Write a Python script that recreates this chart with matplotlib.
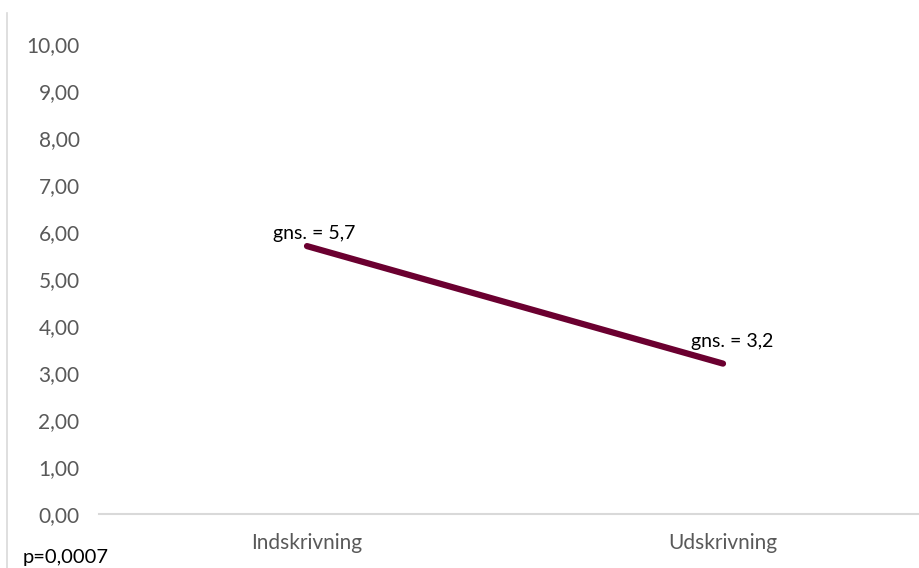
import matplotlib.pyplot as plt
from matplotlib.lines import Line2D

# Gennemsnit ved ind- og udskrivning
categories = ['Indskrivning', 'Udskrivning']
means = [5.7, 3.2]
mean_labels = ['gns. = 5,7', 'gns. = 3,2']
yticks = [0, 1, 2, 3, 4, 5, 6, 7, 8, 9, 10]
p_text = 'p=0,0007'

plt.rcParams['font.family'] = ['Lato', 'DejaVu Sans']

fig = plt.figure(figsize=(9.19, 5.68), dpi=100)
ax = fig.add_axes([99 / 919, 54 / 568, 832 / 919, 470 / 568])

x = list(range(len(categories)))
ax.plot(x, means, color='#6B0030', lw=4.5, solid_capstyle='round')

# etiketter over punkterne
offsets = [(5, 5), (6.5, 12)]
for xi, yi, lab, off in zip(x, means, mean_labels, offsets):
    ax.annotate(lab, (xi, yi), xytext=off, textcoords='offset points',
                ha='center', va='baseline', fontsize=14, color='black')

ax.set_xlim(-0.5, 1.5)
ax.set_ylim(0, 10)
ax.set_xticks(x)
ax.set_xticklabels(categories, fontsize=15, color='#595959')
ax.set_yticks(yticks)
ax.set_yticklabels([f'{v:.2f}'.replace('.', ',') for v in yticks],
                   fontsize=15, color='#595959')
ax.tick_params(axis='both', length=0)
ax.tick_params(axis='y', pad=14)
ax.tick_params(axis='x', pad=14)

for side in ['top', 'right', 'left']:
    ax.spines[side].set_visible(False)
ax.spines['bottom'].set_color('#D9D9D9')
ax.spines['bottom'].set_linewidth(1.5)
ax.spines['bottom'].set_clip_on(False)

# lodret kant i venstre side
fig.add_artist(Line2D([7 / 919, 7 / 919], [0, 1 - 13 / 568],
                      transform=fig.transFigure, color='#D9D9D9', lw=1.2))

fig.text(23 / 919, 5 / 568, p_text, fontsize=14.5, color='black',
         ha='left', va='baseline')

fig.savefig('out.png', dpi=100)
